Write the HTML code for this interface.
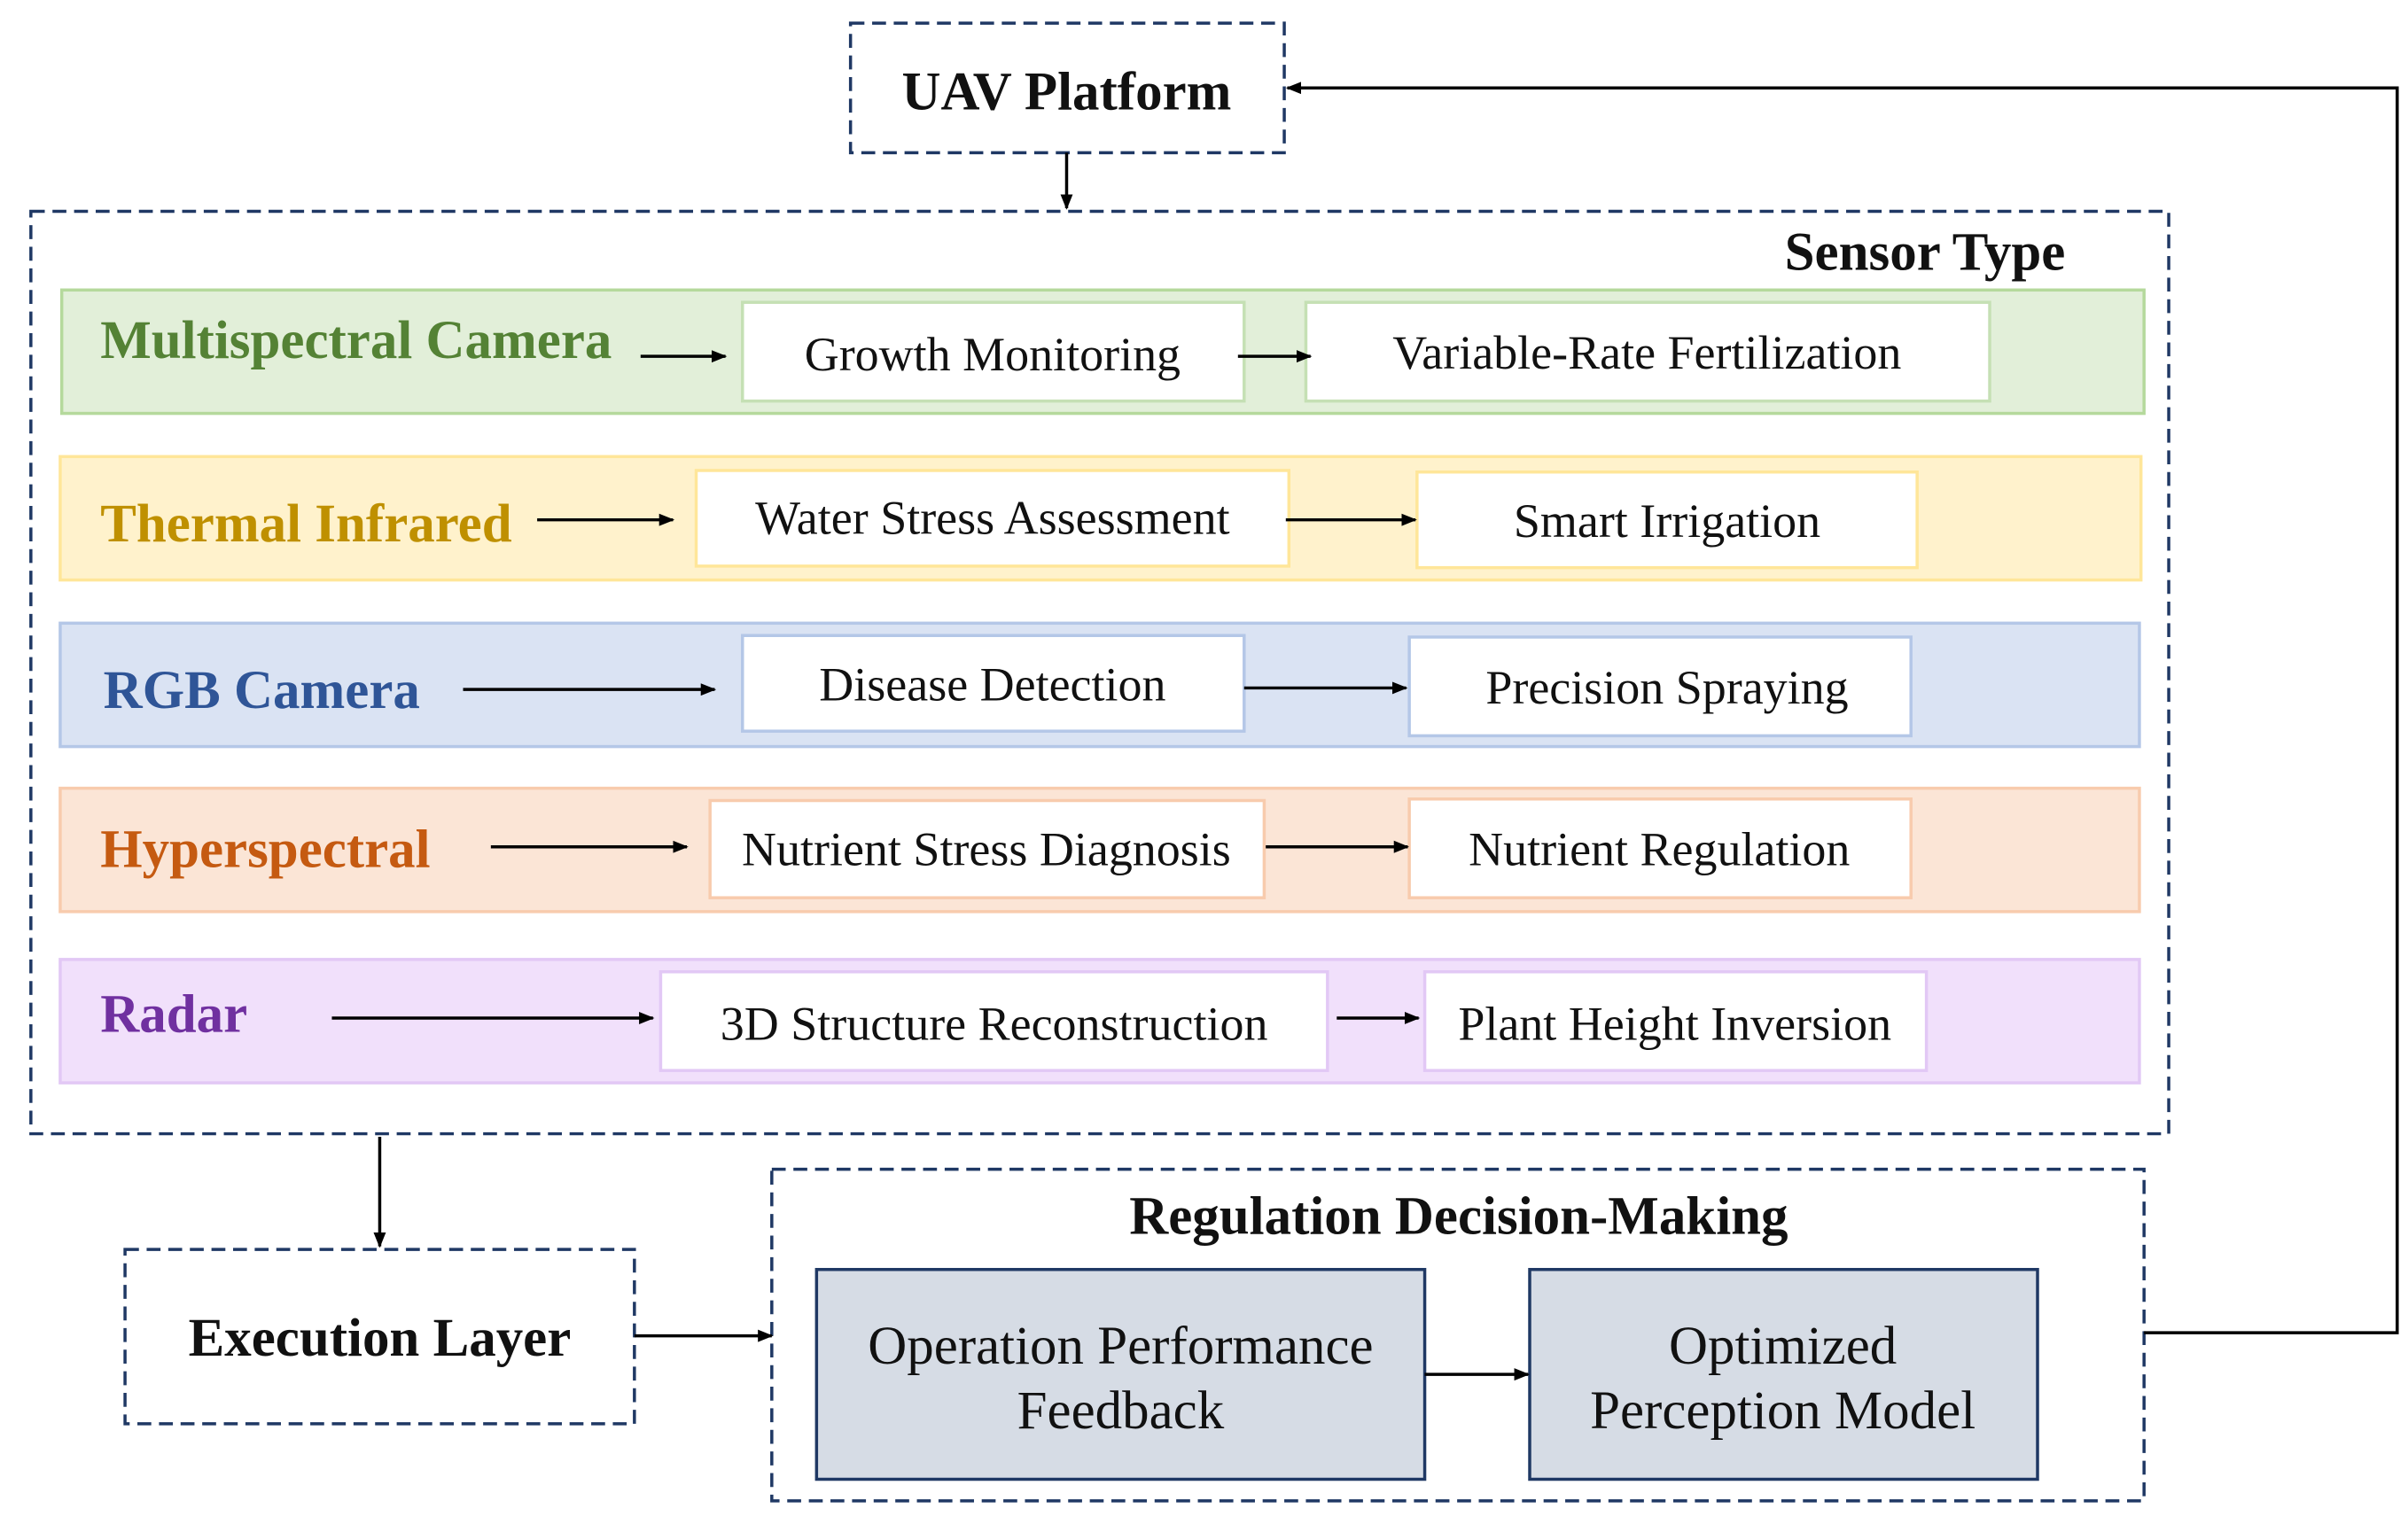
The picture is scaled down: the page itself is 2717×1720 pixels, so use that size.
<!DOCTYPE html>
<html><head><meta charset="utf-8"><style>
html,body{margin:0;padding:0;background:#fff;}
svg{display:block;}
text{font-family:"Liberation Serif",serif;}
.b{font-weight:bold;font-size:35px;}
.t{font-size:31px;fill:#111;text-anchor:middle;}
.w{fill:#fff;stroke-width:2;}
</style></head><body>
<svg width="2717" height="1720" viewBox="0 0 1560 988" preserveAspectRatio="none" xmlns="http://www.w3.org/2000/svg">
<defs><marker id="a" markerWidth="10" markerHeight="10" refX="9" refY="5" orient="auto" markerUnits="userSpaceOnUse"><path d="M0,1 L10,5 L0,9 z" fill="#000"/></marker></defs>
<g fill="none" stroke="#1f3864" stroke-width="2" stroke-dasharray="9,5">
<rect x="551" y="15" width="281" height="84"/>
<rect x="20" y="137" width="1385" height="598"/>
<rect x="81" y="810" width="330" height="113"/>
<rect x="500" y="758" width="889" height="215"/>
</g>
<text x="691" y="71" class="b" text-anchor="middle" fill="#111">UAV Platform</text>
<text x="1338" y="175" class="b" text-anchor="end" fill="#111">Sensor Type</text>
<!-- rows -->
<rect x="40" y="188" width="1349" height="80" fill="#e2efd9" stroke="#b5d99c" stroke-width="2"/>
<rect x="481" y="196" width="325" height="64" class="w" stroke="#c5e0b4"/>
<rect x="846" y="196" width="443" height="64" class="w" stroke="#c5e0b4"/>
<text x="65" y="232" class="b" fill="#548235">Multispectral Camera</text>
<text x="643" y="240" class="t">Growth Monitoring</text>
<text x="1067" y="239" class="t">Variable-Rate Fertilization</text>

<rect x="39" y="296" width="1348" height="80" fill="#fff2cc" stroke="#ffe699" stroke-width="2"/>
<rect x="451" y="305" width="384" height="62" class="w" stroke="#ffe699"/>
<rect x="918" y="306" width="324" height="62" class="w" stroke="#ffe699"/>
<text x="65" y="351" class="b" fill="#bf9000">Thermal Infrared</text>
<text x="643" y="346" class="t">Water Stress Assessment</text>
<text x="1080" y="348" class="t">Smart Irrigation</text>

<rect x="39" y="404" width="1347" height="80" fill="#dae3f3" stroke="#b4c7e7" stroke-width="2"/>
<rect x="481" y="412" width="325" height="62" class="w" stroke="#b4c7e7"/>
<rect x="913" y="413" width="325" height="64" class="w" stroke="#b4c7e7"/>
<text x="67" y="459" class="b" fill="#2f5597">RGB Camera</text>
<text x="643" y="454" class="t">Disease Detection</text>
<text x="1080" y="456" class="t">Precision Spraying</text>

<rect x="39" y="511" width="1347" height="80" fill="#fbe5d6" stroke="#f8cbad" stroke-width="2"/>
<rect x="460" y="519" width="359" height="63" class="w" stroke="#f8cbad"/>
<rect x="913" y="518" width="325" height="64" class="w" stroke="#f8cbad"/>
<text x="65" y="562" class="b" fill="#c55a11">Hyperspectral</text>
<text x="639" y="561" class="t">Nutrient Stress Diagnosis</text>
<text x="1075" y="561" class="t">Nutrient Regulation</text>

<rect x="39" y="622" width="1347" height="80" fill="#f1e0fb" stroke="#e2c8f5" stroke-width="2"/>
<rect x="428" y="630" width="432" height="64" class="w" stroke="#e2c8f5"/>
<rect x="923" y="630" width="325" height="64" class="w" stroke="#e2c8f5"/>
<text x="65" y="669" class="b" fill="#7030a0">Radar</text>
<text x="644" y="674" class="t">3D Structure Reconstruction</text>
<text x="1085" y="674" class="t">Plant Height Inversion</text>

<text x="246" y="879" class="b" text-anchor="middle" fill="#111">Execution Layer</text>
<text x="945" y="800" class="b" text-anchor="middle" fill="#111">Regulation Decision-Making</text>
<rect x="529" y="823" width="394" height="136" fill="#d6dce5" stroke="#1f3864" stroke-width="2"/>
<rect x="991" y="823" width="329" height="136" fill="#d6dce5" stroke="#1f3864" stroke-width="2"/>
<text x="726" y="884" class="t" style="font-size:35px">Operation Performance</text>
<text x="726" y="926" class="t" style="font-size:35px">Feedback</text>
<text x="1155" y="884" class="t" style="font-size:35px">Optimized</text>
<text x="1155" y="926" class="t" style="font-size:35px">Perception Model</text>

<g stroke="#000" stroke-width="2" fill="none" marker-end="url(#a)">
<line x1="691" y1="99" x2="691" y2="135"/>
<line x1="246" y1="737" x2="246" y2="808"/>
<line x1="411" y1="866" x2="500" y2="866"/>
<line x1="923" y1="891" x2="990" y2="891"/>
<polyline points="1389,864 1553,864 1553,57 834,57"/>
<line x1="415" y1="231" x2="470" y2="231"/><line x1="802" y1="231" x2="849" y2="231"/>
<line x1="348" y1="337" x2="436" y2="337"/><line x1="833" y1="337" x2="917" y2="337"/>
<line x1="300" y1="447" x2="463" y2="447"/><line x1="806" y1="446" x2="911" y2="446"/>
<line x1="318" y1="549" x2="445" y2="549"/><line x1="820" y1="549" x2="912" y2="549"/>
<line x1="215" y1="660" x2="423" y2="660"/><line x1="866" y1="660" x2="919" y2="660"/>
</g>
</svg>
</body></html>
